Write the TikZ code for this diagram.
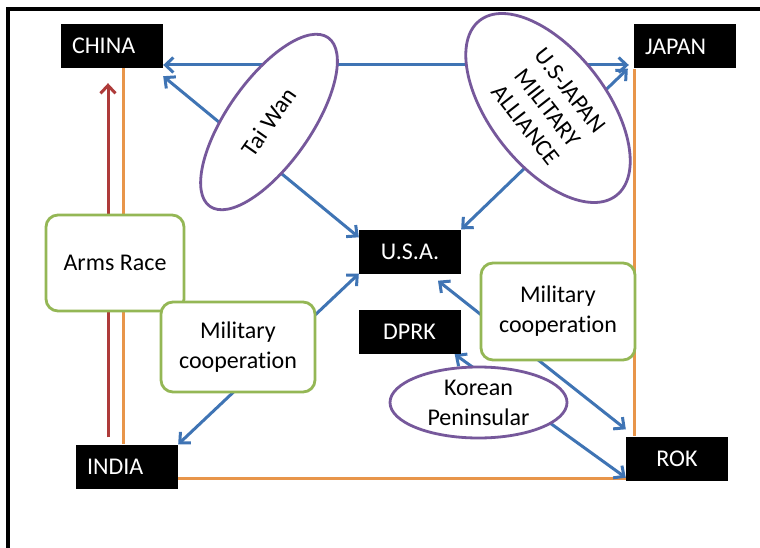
\documentclass[tikz,border=0pt]{standalone}
\usepackage{fontspec}
\setmainfont[Ligatures={NoCommon}]{Carlito}
\usetikzlibrary{arrows.meta,shapes.geometric,backgrounds}
\definecolor{cblue}{HTML}{3F74B4}
\definecolor{cgreen}{HTML}{94B755}
\definecolor{cpurple}{HTML}{76589B}
\definecolor{corange}{HTML}{E8954A}
\definecolor{cred}{HTML}{AE3B3A}
\begin{document}
\begin{tikzpicture}[x=1pt,y=-1pt,
  txt/.style={font=\fontsize{24}{30}\selectfont},
  country/.style={txt,fill=black,text=white,minimum width=102pt,minimum height=44pt,inner sep=0pt},
  countryl/.style={country,text width=80pt,align=left},
  greenbox/.style={txt,draw=cgreen,line width=2.8pt,rounded corners=12pt,fill=white,align=center,inner sep=0pt},
  oval/.style={txt,ellipse,draw=cpurple,line width=2.8pt,fill=white,inner sep=0pt,align=center},
  barb/.tip={Straight Barb[length=8pt,width=15pt]},
  link/.style={draw=cblue,line width=3pt,barb-barb},
  orangeline/.style={draw=corange,line width=3pt},
  redarrow/.style={draw=cred,line width=3pt,-barb}
]
\useasboundingbox (0,0) rectangle (760,548);
\draw[line width=3.5pt] (8,548) -- (8,9) -- (760,9);

% countries
\node[countryl] (china) at (112,46) {CHINA};
\node[countryl] (japan) at (685,46.5) {JAPAN};
\node[country] (usa) at (410,251.5) {U.S.A.};
\node[country] (dprk) at (409.5,332) {DPRK};
\node[countryl] (india) at (127,466.5) {INDIA};
\node[country] (rok) at (677,458.5) {ROK};

% relation labels
\node[greenbox,minimum width=138pt,minimum height=96pt] (arms) at (115,263) {Arms Race};
\node[greenbox,minimum width=154pt,minimum height=90pt] (mil1) at (238,347) {Military\\cooperation};
\node[greenbox,minimum width=154pt,minimum height=97pt] (mil2) at (558,311.5) {Military\\cooperation};
\node[oval,minimum width=177pt,minimum height=71pt] (korea) at (478.5,402.5) {Korean\\Peninsular};
\node[oval,rotate=55,minimum width=206pt,minimum height=84pt] (taiwan) at (269,122) {Tai Wan};
\node[oval,rotate=-52,minimum width=222pt,minimum height=116pt,font=\fontsize{24}{28}\selectfont] (alliance) at (548,108) {U.S-JAPAN\\MILITARY\\ALLIANCE};

\coordinate (ox1) at (123,0);
\coordinate (ox2) at (634,0);
\coordinate (oy) at (0,478);
\coordinate (redx) at (108,0);
\coordinate (ly) at (0,65);

\begin{scope}[on background layer]
  \fill[white] (0,0) rectangle (760,548);
  \draw[orangeline] (china.south -| ox1) -- (india.north -| ox1);
  \draw[orangeline] (india.east |- oy) -- (rok.west |- oy);
  \draw[orangeline] (japan.south -| ox2) -- (rok.north -| ox2);
  \draw[redarrow,shorten <=7pt,shorten >=15pt] (india.north -| redx) -- (china.south -| redx);
  \draw[link,shorten >=5pt] (china.east |- ly) -- (japan.west |- ly);
  \draw[link] ([yshift=-8pt]china.south east) -- ([yshift=-8pt]usa.north west);
  \draw[link] (usa.north east) -- ([xshift=-6pt]japan.south west);
  \draw[link] (usa.south west) -- (india.north east);
  \draw[link] ([xshift=28pt,yshift=-7pt]usa.south) -- ([yshift=7pt]rok.north west);
  \draw[link] ([xshift=-6pt]dprk.south east) -- ([yshift=3pt]rok.south west);
\end{scope}
\end{tikzpicture}
\end{document}
